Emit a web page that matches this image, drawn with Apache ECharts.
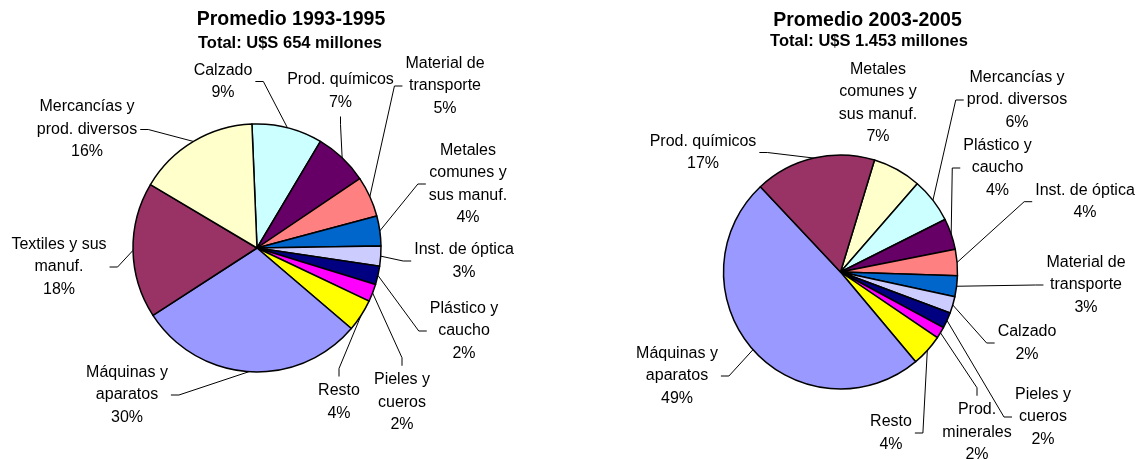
<!DOCTYPE html>
<html>
<head>
<meta charset="utf-8">
<script src="https://cdn.jsdelivr.net/npm/echarts@6/dist/echarts.min.js"></script>
<style>
html,body{margin:0;padding:0;background:#ffffff;}
#chart{width:1138px;height:459px;}
</style>
</head>
<body>
<div id="chart"></div>
<script>
// ---------- DATA ----------
const leftTitle = 'Promedio 1993-1995';
const leftSubtitle = 'Total: U$S 654 millones';
const leftCategories = ['Calzado', 'Prod. químicos', 'Material de\ntransporte', 'Metales\ncomunes y\nsus manuf.', 'Inst. de óptica', 'Plástico y\ncaucho', 'Pieles y\ncueros', 'Resto', 'Máquinas y\naparatos', 'Textiles y sus\nmanuf.', 'Mercancías y\nprod. diversos'];
const leftValues = [9.2, 7.0, 5.3, 3.9, 2.6, 2.4, 2.3, 4.2, 29.6, 17.7, 15.8];

const rightTitle = 'Promedio 2003-2005';
const rightSubtitle = 'Total: U$S 1.453 millones';
const rightCategories = ['Metales\ncomunes y\nsus manuf.', 'Mercancías y\nprod. diversos', 'Plástico y\ncaucho', 'Inst. de óptica', 'Material de\ntransporte', 'Calzado', 'Pieles y\ncueros', 'Prod.\nminerales', 'Resto', 'Máquinas y\naparatos', 'Prod. químicos'];
const rightValues = [6.7, 6.2, 4.3, 3.6, 2.9, 2.3, 2.2, 1.6, 4.4, 49.1, 16.7];

// ---------- STYLE / LAYOUT ----------
const leftColors = ['#CCFFFF', '#660066', '#FF8080', '#0066CC', '#CCCCFF', '#000080', '#FF00FF', '#FFFF00', '#9999FF', '#993366', '#FFFFCC'];
const rightColors = ['#FFFFCC', '#CCFFFF', '#660066', '#FF8080', '#0066CC', '#CCCCFF', '#000080', '#FF00FF', '#FFFF00', '#9999FF', '#993366'];

// label block centres and the side where the leader line attaches
const leftLabelPos = [
  {x: 223, y: 81.5, side: 'r'},
  {x: 340.5, y: 91, side: 'b'},
  {x: 445, y: 86, side: 'l'},
  {x: 468, y: 184, side: 'l'},
  {x: 464, y: 261, side: 'l'},
  {x: 464, y: 331, side: 'l'},
  {x: 402, y: 402.5, side: 't'},
  {x: 339, y: 402, side: 't'},
  {x: 127, y: 395, side: 'r'},
  {x: 59, y: 267, side: 'r'},
  {x: 87, y: 129.5, side: 'r'}
];
const rightLabelPos = [
  {x: 878, y: 103, side: 'none'},
  {x: 1017, y: 100, side: 'l'},
  {x: 997.5, y: 168, side: 'l'},
  {x: 1085, y: 201.7, side: 'l'},
  {x: 1086, y: 285, side: 'l'},
  {x: 1027, y: 343, side: 'l'},
  {x: 1043, y: 417, side: 'l'},
  {x: 977, y: 432.5, side: 't'},
  {x: 891, y: 433, side: 'r'},
  {x: 677, y: 376, side: 'r'},
  {x: 703, y: 152.5, side: 'r'}
];

const FONT = 'Liberation Sans, Arial, sans-serif';

function makeLabelLayout(pos) {
  return function (params) {
    const p = pos[params.dataIndex];
    const w = params.labelRect.width;
    const h = params.labelRect.height;
    const start = (params.labelLinePoints && params.labelLinePoints[0]) || [p.x, p.y];
    const gap = 3, stub = 8;
    let a, b;
    if (p.side === 'r') { a = [p.x + w / 2 + gap, p.y]; b = [a[0] + stub, p.y]; }
    else if (p.side === 'l') { a = [p.x - w / 2 - gap, p.y]; b = [a[0] - stub, p.y]; }
    else if (p.side === 't') { a = [p.x, p.y - h / 2 - gap]; b = [p.x, a[1] - stub]; }
    else if (p.side === 'b') { a = [p.x, p.y + h / 2 + gap]; b = [p.x, a[1] + stub]; }
    else { a = start; b = start; }
    return {
      x: p.x, y: p.y, align: 'center', verticalAlign: 'middle',
      labelLinePoints: [start, b, a]
    };
  };
}

function buildData(cats, vals, colors, pos) {
  return cats.map((c, i) => ({
    name: c,
    value: vals[i],
    itemStyle: {color: colors[i]},
    labelLine: {show: pos[i].side !== 'none'}
  }));
}

function pieSeries(cats, vals, colors, pos, center, radius, startAngle) {
  return {
    type: 'pie',
    center: center,
    radius: radius,
    startAngle: startAngle,
    clockwise: true,
    avoidLabelOverlap: false,
    silent: true,
    itemStyle: {borderColor: '#000', borderWidth: 1.5},
    label: {
      show: true,
      position: 'outside',
      color: '#000',
      fontFamily: FONT,
      fontSize: 16,
      lineHeight: 22.5,
      align: 'center',
      formatter: p => p.name + '\n' + Math.round(p.percent) + '%'
    },
    labelLine: {show: true, lineStyle: {color: '#000', width: 1}},
    labelLayout: makeLabelLayout(pos),
    data: buildData(cats, vals, colors, pos)
  };
}

const chart = echarts.init(document.getElementById('chart'), null, {renderer: 'canvas'});
const titleStyle = size => ({fontFamily: FONT, fontSize: size, fontWeight: 'bold', color: '#000'});
chart.setOption({
  animation: false,
  backgroundColor: '#ffffff',
  title: [
    {text: leftTitle, left: 291, top: 10, textAlign: 'center', padding: 0, textStyle: titleStyle(19.5)},
    {text: leftSubtitle, left: 290, top: 35, textAlign: 'center', padding: 0, textStyle: titleStyle(16.5)},
    {text: rightTitle, left: 867.5, top: 11, textAlign: 'center', padding: 0, textStyle: titleStyle(19.5)},
    {text: rightSubtitle, left: 869, top: 32.5, textAlign: 'center', padding: 0, textStyle: titleStyle(16.5)}
  ],
  series: [
    pieSeries(leftCategories, leftValues, leftColors, leftLabelPos, [257, 248], 124, 92.35),
    pieSeries(rightCategories, rightValues, rightColors, rightLabelPos, [840.5, 272], 117, 73.1)
  ]
});
</script>
</body>
</html>
